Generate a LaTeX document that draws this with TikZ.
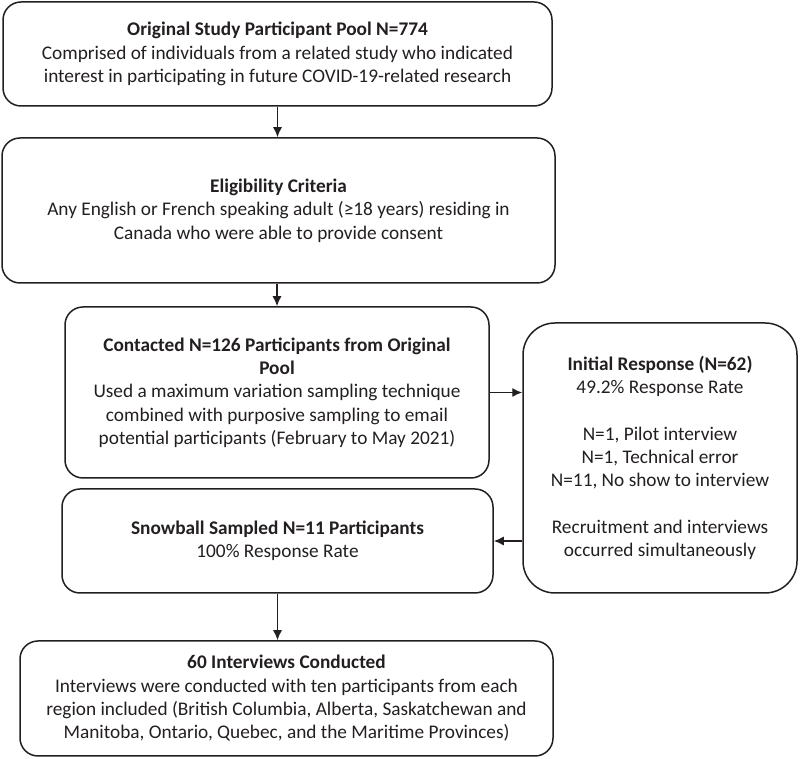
\documentclass[tikz,border=0pt]{standalone}
\usepackage{fontspec}
\setmainfont{Carlito}
\usetikzlibrary{arrows.meta}

\definecolor{ink}{HTML}{231F20}

\begin{document}
\begin{tikzpicture}[x=1pt,y=1pt,
  box/.style={draw=ink,line width=1.5pt,rounded corners=18pt,align=center,inner sep=0pt,
    text=ink,font=\fontsize{19.3}{23.3}\selectfont},
  arr/.style={draw=ink,line width=1.4pt,-{Latex[length=10pt,width=9pt]}}]
  \useasboundingbox (0,0) rectangle (800,759);

  \node[box,minimum width=549pt,minimum height=104pt] (pool) at (277.5,705)
    {\textbf{Original Study Participant Pool N=774}\\
     Comprised of individuals from a related study who indicated\\
     interest in participating in future COVID-19-related research};
  \node[box,minimum width=553pt,minimum height=145pt] (elig) at (278.5,548.5)
    {\textbf{Eligibility Criteria}\\
     Any English or French speaking adult (≥18 years) residing in\\
     Canada who were able to provide consent};
  \node[box,minimum width=424pt,minimum height=171pt] (contact) at (277,366.5)
    {\textbf{Contacted N=126 Participants from Original}\\
     \textbf{Pool}\\
     Used a maximum variation sampling technique\\
     combined with purposive sampling to email\\
     potential participants (February to May 2021)};
  \node[box,rounded corners=32pt,minimum width=274pt,minimum height=270pt] (resp) at (660,301)
    {\textbf{Initial Response (N=62)}\\
     49.2\% Response Rate\\[23.3pt]
     N=1, Pilot interview\\
     N=1, Technical error\\
     N=11, No show to interview\\[23.3pt]
     Recruitment and interviews\\
     occurred simultaneously};
  \node[box,minimum width=431pt,minimum height=104pt] (snow) at (277.5,218)
    {\textbf{Snowball Sampled N=11 Participants}\\
     100\% Response Rate};
  \node[box,minimum width=533pt,minimum height=115pt] (done) at (286.5,60.5)
    {\textbf{60 Interviews Conducted}\\
     Interviews were conducted with ten participants from each\\
     region included (British Columbia, Alberta, Saskatchewan and\\
     Manitoba, Ontario, Quebec, and the Maritime Provinces)};

  \draw[arr] (pool.south) -- (elig.north -| pool.south);
  \draw[arr] (contact.north |- elig.south) -- (contact.north);
  \draw[arr] (contact.east) -- (contact.east -| resp.west);
  \draw[arr] (snow.east -| resp.west) -- (snow.east);
  \draw[arr] (snow.south) -- (snow.south |- done.north);
\end{tikzpicture}
\end{document}
